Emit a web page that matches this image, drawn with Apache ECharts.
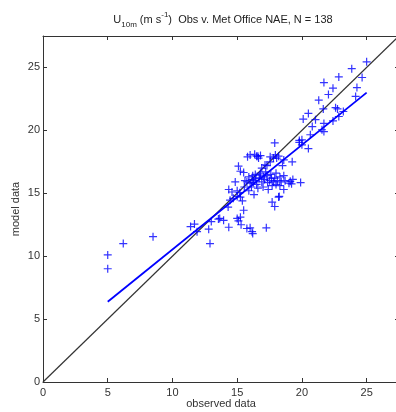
<!DOCTYPE html>
<html><head><meta charset="utf-8">
<script src="https://cdn.jsdelivr.net/npm/echarts@6/dist/echarts.min.js"></script>
<style>html,body{margin:0;padding:0;background:#fff}#c{width:396px;height:412px}</style>
</head><body><div id="c"></div>
<script>
// observed (x) and model (y) values, N = 138
var obs = [5.0,5.0,6.2,8.5,11.4,11.7,11.9,12.8,12.9,13.0,13.55,13.65,13.95,14.35,15.0,15.1,15.25,15.3,15.5,15.75,
16.0,16.15,16.2,17.25,14.3,14.45,14.7,15.0,15.4,15.25,14.35,14.6,14.85,15.0,15.2,15.1,15.25,15.5,15.75,16.0,
16.25,15.8,16.0,16.35,16.5,16.65,17.55,17.95,18.05,17.9,19.25,19.9,18.6,18.2,17.7,17.9,18.25,15.9,16.15,18.6,
18.2,16.3,16.5,16.7,16.9,17.1,17.3,17.5,17.7,17.9,18.1,18.4,18.7,19.0,19.3,16.6,17.0,17.4,16.8,17.2,
17.6,18.0,16.4,17.8,18.3,15.6,16.1,16.9,17.3,18.5,25.0,23.85,24.65,22.85,21.7,22.4,22.05,24.25,24.15,21.3,
21.65,22.6,22.75,23.2,20.5,20.1,21.05,22.85,22.4,21.7,20.8,21.55,21.7,20.65,20.0,19.8,19.8,20.0,20.5,17.55,
17.15,17.8,19.1,19.2,16.2,16.45,16.75,17.05,17.35,17.65,18.0,18.3,18.6,16.6,16.8,15.55,15.9,16.3];
var mod = [10.1,9.0,11.0,11.55,12.35,12.55,11.95,12.15,11.0,12.75,12.95,13.0,12.85,12.3,13.0,12.8,13.1,12.5,13.65,12.2,
12.25,11.95,11.8,12.25,13.9,14.45,14.6,14.75,14.4,14.7,15.3,15.1,15.9,15.2,15.05,17.15,16.75,16.65,15.9,15.8,
15.85,17.9,18.05,18.1,17.95,17.8,17.9,18.05,17.8,19.0,17.5,15.85,15.3,14.7,14.3,13.95,14.75,16.3,16.1,17.65,
17.95,16.0,15.7,16.2,15.9,16.1,16.4,16.0,15.6,16.2,16.0,15.9,16.0,15.8,16.1,15.4,15.5,15.3,16.6,16.7,
16.5,16.6,16.5,15.9,16.3,16.0,15.5,17.0,17.2,17.2,25.45,24.9,24.2,24.25,23.8,23.35,22.85,23.4,22.7,22.4,
21.7,21.8,21.7,21.5,21.35,20.9,20.85,21.1,20.75,20.55,20.3,20.05,19.9,19.65,19.25,19.05,19.2,18.85,18.55,17.5,
17.25,17.8,15.95,15.75,16.4,16.2,16.45,16.3,15.85,16.2,15.7,15.6,16.4,17.95,18.0,15.5,15.2,14.9];
// least-squares fit line end points
var fitX = [5.0, 25.0];
var fitY = [6.38, 23.0];
// 1:1 line
var oneX = [0, 27.5];
var oneY = [0, 27.5];

var pts = obs.map(function(v,i){return [v, mod[i]];});
var fit = fitX.map(function(v,i){return [v, fitY[i]];});
var one = oneX.map(function(v,i){return [v, oneY[i]];});

var font = 'Liberation Sans, Arial, Helvetica, sans-serif';
var tc = '#333';
function axisCommon(extra, margin){
  var a = {type:'value', min:0, max:27.5, interval:5, splitLine:{show:false},
    axisLine:{show:true, onZero:false, lineStyle:{color:'#333', width:1}},
    axisTick:{show:true, inside:true, length:4, lineStyle:{color:'#333'}},
    axisLabel:{color:tc, fontSize:11, fontFamily:font, margin:margin, showMaxLabel:false}};
  for (var k in extra) a[k]=extra[k];
  return a;
}
var chart = echarts.init(document.getElementById('c'), null, {renderer:'canvas'});
chart.setOption({
  animation:false,
  backgroundColor:'#fff',
  title:{
    text:'U{sub|10m} (m s{sup|-1})  Obs v. Met Office NAE, N = 138',
    left:218, top:6, textAlign:'center',
    textStyle:{fontSize:11, fontWeight:'normal', color:'#222', fontFamily:font, lineHeight:18,
      rich:{sub:{fontSize:8, fontFamily:font, color:'#222', lineHeight:6, verticalAlign:'bottom'},
            sup:{fontSize:8, fontFamily:font, color:'#222', lineHeight:6, verticalAlign:'top'}}}
  },
  grid:{left:43, top:36, right:-3, bottom:30, containLabel:false, outerBoundsMode:'none'},
  xAxis:[
    axisCommon({position:'bottom', name:'observed data', nameLocation:'middle', nameGap:16, nameMoveOverlap:false,
      nameTextStyle:{fontSize:11, color:tc, fontFamily:font}}, 5),
    axisCommon({position:'top', axisLabel:{show:false}}, 5)
  ],
  yAxis:[
    axisCommon({position:'left', name:'model data', nameLocation:'middle', nameGap:22, nameMoveOverlap:false,
      nameTextStyle:{fontSize:11, color:tc, fontFamily:font}}, 3),
    axisCommon({position:'right', axisLabel:{show:false}}, 3)
  ],
  series:[
    {type:'line', data:one, symbol:'none', lineStyle:{color:'#333', width:1.2}, z:2},
    {type:'scatter', data:pts, symbol:'path://M5,0L5,10M0,5L10,5', symbolSize:8,
      itemStyle:{color:'rgba(0,0,0,0)', borderColor:'#0000ff', borderWidth:1.2}, z:3},
    {type:'line', data:fit, symbol:'none', lineStyle:{color:'#0000ff', width:1.8}, z:4}
  ]
});
</script></body></html>
